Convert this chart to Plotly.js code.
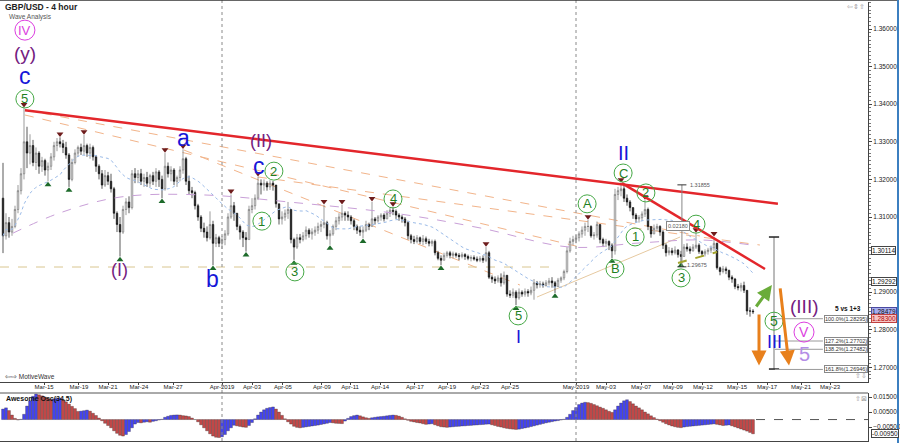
<!DOCTYPE html>
<html><head><meta charset="utf-8">
<script src="https://cdn.plot.ly/plotly-3.0.1.min.js"></script>
<style>html,body{margin:0;padding:0;background:#fff}#chart{width:900px;height:443px}</style>
</head><body><div id="chart"></div>
<script>
// ---------- DATA ----------
const firstOpen = 1.3150;
const closes = [
1.3050,1.3085,1.3060,1.3075,1.3120,1.3170,1.3215,1.3300,1.3270,1.3290,
1.3245,1.3270,1.3235,1.3250,1.3225,1.3235,1.3260,1.3290,1.3300,1.3295,
1.3285,1.3265,1.3200,1.3245,1.3270,1.3285,1.3275,1.3290,1.3270,1.3285,
1.3260,1.3235,1.3215,1.3185,1.3210,1.3195,1.3175,1.3110,1.3080,1.3060,
1.3120,1.3140,1.3125,1.3215,1.3205,1.3215,1.3195,1.3205,1.3190,1.3210,
1.3195,1.3220,1.3200,1.3175,1.3235,1.3215,1.3225,1.3195,1.3205,1.3225,
1.3255,1.3195,1.3170,1.3165,1.3130,1.3100,1.3070,1.3060,1.3045,1.3080,
1.3030,1.3045,1.3030,1.3040,1.3055,1.3100,1.3130,1.3110,1.3075,1.3060,
1.3045,1.3040,1.3120,1.3130,1.3150,1.3190,1.3185,1.3190,1.3180,1.3190,
1.3185,1.3135,1.3095,1.3100,1.3110,1.3120,1.3040,1.3020,1.3045,1.3040,
1.3050,1.3065,1.3055,1.3060,1.3065,1.3075,1.3080,1.3085,1.3050,1.3055,
1.3075,1.3090,1.3100,1.3110,1.3105,1.3100,1.3090,1.3075,1.3065,1.3060,
1.3065,1.3080,1.3075,1.3095,1.3090,1.3100,1.3105,1.3095,1.3110,1.3118,
1.3115,1.3105,1.3100,1.3095,1.3085,1.3050,1.3040,1.3035,1.3045,1.3035,
1.3042,1.3035,1.3030,1.3035,1.3005,1.2990,1.2985,1.2998,1.3005,1.2998,
1.3002,1.2998,1.2995,1.3000,1.2995,1.2990,1.2992,1.2988,1.2985,1.2990,
1.2985,1.3005,1.2940,1.2935,1.2930,1.2938,1.2925,1.2945,1.2895,1.2892,
1.2900,1.2885,1.2900,1.2895,1.2902,1.2898,1.2905,1.2925,1.2920,1.2922,
1.2918,1.2925,1.2930,1.2925,1.2915,1.2932,1.2938,1.2955,1.3010,1.3035,
1.3040,1.3045,1.3055,1.3065,1.3075,1.3075,1.3050,1.3052,1.3080,1.3040,
1.3030,1.3035,1.3025,1.3010,1.3160,1.3170,1.3175,1.3150,1.3140,1.3125,
1.3105,1.3095,1.3098,1.3108,1.3120,1.3075,1.3055,1.3070,1.3075,1.3060,
1.3025,1.3005,1.3010,1.3005,1.3012,1.3000,1.2995,1.3020,1.3015,1.3010,
1.3020,1.3025,1.3008,1.3002,1.3008,1.3012,1.3018,1.3030,1.2965,1.2955,
1.2962,1.2958,1.2940,1.2935,1.2915,1.2912,1.2918,1.2905,1.2850,1.2850,
1.2848];
const highs = [
1.3244,1.3110,1.3100,1.3095,1.3130,1.3185,1.3230,1.3390,1.3340,1.3320,
1.3305,1.3285,1.3275,1.3260,1.3255,1.3245,1.3270,1.3300,1.3310,1.3312,
1.3305,1.3300,1.3270,1.3255,1.3280,1.3290,1.3295,1.3318,1.3295,1.3295,
1.3290,1.3265,1.3240,1.3225,1.3225,1.3220,1.3215,1.3180,1.3115,1.3100,
1.3130,1.3150,1.3155,1.3225,1.3230,1.3225,1.3228,1.3215,1.3220,1.3215,
1.3220,1.3230,1.3225,1.3210,1.3270,1.3245,1.3235,1.3230,1.3210,1.3235,
1.3280,1.3260,1.3210,1.3180,1.3170,1.3135,1.3105,1.3085,1.3075,1.3115,
1.3090,1.3055,1.3050,1.3050,1.3065,1.3110,1.3160,1.3140,1.3110,1.3080,
1.3065,1.3060,1.3130,1.3150,1.3160,1.3207,1.3200,1.3200,1.3195,1.3198,
1.3196,1.3185,1.3135,1.3115,1.3120,1.3140,1.3120,1.3045,1.3055,1.3055,
1.3060,1.3075,1.3070,1.3070,1.3075,1.3085,1.3090,1.3132,1.3090,1.3065,
1.3080,1.3100,1.3110,1.3132,1.3115,1.3115,1.3105,1.3095,1.3080,1.3075,
1.3075,1.3090,1.3085,1.3140,1.3100,1.3105,1.3110,1.3110,1.3118,1.3125,
1.3126,1.3120,1.3110,1.3105,1.3100,1.3090,1.3055,1.3050,1.3052,1.3048,
1.3052,1.3048,1.3042,1.3040,1.3040,1.3010,1.2998,1.3005,1.3010,1.3010,
1.3008,1.3006,1.3004,1.3006,1.3004,1.3000,1.2998,1.2998,1.2995,1.2996,
1.2998,1.3020,1.3010,1.2945,1.2942,1.2945,1.2950,1.2955,1.2945,1.2905,
1.2910,1.2905,1.2910,1.2905,1.2910,1.2908,1.2915,1.2935,1.2930,1.2930,
1.2928,1.2932,1.2938,1.2940,1.2930,1.2938,1.2942,1.2960,1.3020,1.3045,
1.3050,1.3052,1.3062,1.3075,1.3085,1.3092,1.3078,1.3060,1.3088,1.3080,
1.3045,1.3042,1.3038,1.3030,1.3175,1.3180,1.3190,1.3185,1.3160,1.3145,
1.3125,1.3110,1.3105,1.3115,1.3145,1.3125,1.3075,1.3080,1.3082,1.3078,
1.3065,1.3030,1.3020,1.3018,1.3022,1.3015,1.3010,1.3028,1.3030,1.3022,
1.3028,1.3057,1.3030,1.3012,1.3014,1.3018,1.3024,1.3047,1.3032,1.2968,
1.2970,1.2968,1.2960,1.2945,1.2938,1.2922,1.2925,1.2928,1.2905,1.2860,
1.2855];
const lows = [
1.3004,1.3040,1.3045,1.3050,1.3070,1.3110,1.3160,1.3200,1.3230,1.3240,
1.3235,1.3225,1.3215,1.3220,1.3210,1.3195,1.3225,1.3250,1.3275,1.3285,
1.3270,1.3255,1.3180,1.3195,1.3240,1.3260,1.3265,1.3265,1.3260,1.3255,
1.3250,1.3220,1.3200,1.3175,1.3180,1.3185,1.3165,1.3095,1.3060,1.2995,
1.3055,1.3105,1.3110,1.3120,1.3190,1.3190,1.3185,1.3180,1.3180,1.3180,
1.3185,1.3180,1.3180,1.3150,1.3170,1.3205,1.3195,1.3185,1.3180,1.3195,
1.3215,1.3185,1.3160,1.3150,1.3120,1.3090,1.3060,1.3045,1.3035,1.3040,
1.2972,1.3020,1.3020,1.3015,1.3025,1.3050,1.3095,1.3090,1.3065,1.3040,
1.3020,1.3008,1.3040,1.3110,1.3120,1.3145,1.3160,1.3170,1.3170,1.3172,
1.3170,1.3125,1.3080,1.3080,1.3090,1.3095,1.3030,1.2986,1.3015,1.3030,
1.3035,1.3040,1.3045,1.3040,1.3050,1.3055,1.3060,1.3070,1.3040,1.3026,
1.3050,1.3065,1.3080,1.3090,1.3090,1.3090,1.3080,1.3065,1.3055,1.3050,
1.3044,1.3060,1.3065,1.3075,1.3080,1.3085,1.3090,1.3088,1.3095,1.3100,
1.3105,1.3095,1.3090,1.3085,1.3075,1.3040,1.3030,1.3028,1.3030,1.3028,
1.3025,1.3028,1.3022,1.3022,1.2998,1.2985,1.2972,1.2985,1.2992,1.2990,
1.2990,1.2992,1.2985,1.2990,1.2986,1.2985,1.2982,1.2984,1.2980,1.2980,
1.2978,1.2980,1.2935,1.2925,1.2922,1.2925,1.2915,1.2920,1.2888,1.2885,
1.2885,1.2866,1.2880,1.2888,1.2888,1.2888,1.2892,1.2880,1.2910,1.2912,
1.2912,1.2915,1.2918,1.2912,1.2898,1.2915,1.2925,1.2932,1.2950,1.3005,
1.3025,1.3030,1.3035,1.3045,1.3050,1.3060,1.3045,1.3040,1.3045,1.3030,
1.3020,1.3020,1.3012,1.2991,1.3000,1.3145,1.3155,1.3140,1.3130,1.3115,
1.3095,1.3085,1.3085,1.3090,1.3100,1.3065,1.3045,1.3055,1.3062,1.3050,
1.3015,1.2995,1.2998,1.2998,1.3000,1.2992,1.2980,1.2995,1.3008,1.3002,
1.3008,1.3015,1.3002,1.2995,1.2995,1.3000,1.3004,1.3010,1.2960,1.2945,
1.2950,1.2948,1.2932,1.2925,1.2908,1.2905,1.2902,1.2898,1.2840,1.2835,
1.2842];
// Awesome Oscillator (34,5), in thousandths
const aoMilli = [
7.0,7.8,6.0,3.0,0.8,-0.3,0.2,3.5,9.0,12.5,
15.5,17.0,16.5,15.8,15.0,14.2,13.5,13.8,14.2,14.3,
13.2,11.8,10.3,8.8,7.3,5.4,5.6,5.9,6.3,5.6,
4.2,2.7,1.0,-0.8,-2.5,-4.0,-5.5,-7.5,-9.2,-10.5,
-11.0,-10.0,-8.0,-5.5,-3.0,-2.0,-2.2,-1.8,-1.5,-1.8,
-1.2,-0.8,-0.3,0.2,1.5,2.2,2.8,3.0,3.1,3.0,
2.6,2.4,2.0,1.0,0.0,-1.5,-3.5,-5.5,-7.5,-9.5,
-11.0,-11.8,-12.0,-11.5,-10.0,-7.5,-5.5,-3.8,-4.2,-4.6,
-5.0,-5.2,-4.0,-2.0,0.5,3.0,5.0,6.5,7.5,8.0,
8.4,7.0,5.0,2.8,0.5,-1.5,-3.0,-4.5,-5.2,-5.5,
-5.2,-4.9,-4.6,-4.3,-4.0,-3.7,-3.3,-2.9,-2.5,-2.0,
-2.2,-2.5,-2.6,-2.7,-1.0,0.8,2.0,2.6,3.0,2.5,
1.8,1.2,0.8,1.2,1.5,1.8,2.0,2.2,2.5,2.8,
3.0,2.8,2.3,1.5,0.5,-0.5,-1.2,-1.6,-2.0,-2.3,
-2.8,-3.2,-3.0,-2.8,-3.5,-4.2,-4.8,-5.0,-5.2,-5.0,
-4.8,-4.6,-4.5,-4.3,-4.2,-4.0,-3.9,-3.7,-3.6,-3.4,
-3.3,-3.1,-3.0,-3.5,-4.0,-4.6,-5.0,-5.5,-5.9,-6.2,
-6.4,-6.6,-6.4,-6.0,-5.6,-5.2,-4.7,-4.2,-3.7,-3.2,
-2.7,-2.2,-1.8,-1.4,-1.0,-0.7,-0.3,0.2,1.5,3.5,
6.0,8.0,10.0,11.0,11.5,11.3,10.8,10.0,9.2,8.3,
7.5,6.5,5.5,4.8,6.5,9.0,11.0,12.5,13.2,12.0,
10.5,9.0,7.8,6.5,5.0,3.8,2.5,1.3,0.3,-0.8,
-1.8,-2.8,-3.6,-4.3,-4.8,-5.2,-5.4,-5.0,-4.7,-4.5,
-4.3,-4.1,-3.9,-3.7,-3.5,-3.3,-3.1,-2.9,-3.2,-3.6,
-4.0,-3.8,-3.6,-4.2,-4.9,-5.6,-6.3,-7.0,-7.7,-8.6,
-9.5];
const tickIdx = [13.7,25.3,35,45.3,56.7,73,83,93.3,106.3,115.7,125.7,137.3,148,159,169,191,201,212.7,223.3,233.3,244.7,254.7,266,275.7];
const tickLabels = ['Mar-15','Mar-19','Mar-21','Mar-24','Mar-27','Apr-2019','Apr-03','Apr-05','Apr-09','Apr-11','Apr-14','Apr-17','Apr-19','Apr-23','Apr-25','May-2019','May-03','May-07','May-09','May-12','May-15','May-17','May-21','May-23'];
const monthStarts = [73, 191];
const priceTicks = [1.27,1.28,1.29,1.31,1.32,1.33,1.34,1.35,1.36];
const aoTicks = [0.015, 0.005, -0.005];
const pivotHighIdx = [7,19,27,54,60,76,85,107,113,123,130,161,195,206,214,231,237];
const pivotLowIdx = [15,22,39,53,70,81,97,109,120,146,171,184,203,226];
const slowMaIdx = [3.3,19,39,65.7,99,132.3,159,189,212.3,232.3,249];
const slowMaVal = [1.3057,1.3111,1.3153,1.3159,1.3137,1.3108,1.3071,1.3020,1.3031,1.3039,1.3026];
const fibPct = ['100.0%','127.2%','138.2%','161.8%'];
const fibPrice = [1.28295,1.27702,1.27482,1.26946];
const markedLevels = [1.30114, 1.29292];
const lastPrice = 1.28479, refPrice = 1.28300, aoLast = -0.00950;
const measureHi = 1.31855, measureLo = 1.29675;

// ---------- DERIVED ----------
const idx = closes.map((_, i) => i);
const opens = [firstOpen].concat(closes.slice(0, -1));
const ao = aoMilli.map(v => v / 1000);
const aoColors = ao.map((v, i) => (i === 0 || v >= ao[i - 1]) ? '#4646f0' : '#c44a4a');
const fastLen = 20;
const fastMa = closes.map((_, i) => {
  const s = Math.max(0, i - fastLen + 1); let sum = 0;
  for (let k = s; k <= i; k++) sum += closes[k];
  return sum / (i - s + 1);
});

const FONT = 'Liberation Sans, Arial, sans-serif';
const GREEN = '#1f7f1f', RING = '#45a845', BLUE = '#1717d8', PURPLE = '#74207f', MAGENTA = '#dc3ee0', LAVENDER = '#b48ee6';
const PX = px => px / 868, PY = py => 1 - py / 443;

const traces = [
  {type:'scatter', mode:'lines', x:idx, y:fastMa, line:{color:'#9bbbe8', width:1, dash:'dot'}, hoverinfo:'skip'},
  {type:'scatter', mode:'lines', x:slowMaIdx, y:slowMaVal, line:{color:'#c9a0d8', width:1, dash:'dash', shape:'spline'}, hoverinfo:'skip'},
  {type:'candlestick', x:idx, open:opens, high:highs, low:lows, close:closes,
   increasing:{line:{color:'#707070', width:0.7}, fillcolor:'#ffffff'},
   decreasing:{line:{color:'#111111', width:0.7}, fillcolor:'#111111'},
   whiskerwidth:0, hoverinfo:'skip'},
  {type:'scatter', mode:'markers', x:pivotHighIdx, y:pivotHighIdx.map(i => highs[i] + 0.0009),
   marker:{symbol:'triangle-down', size:6, color:'#6e1c1c'}, hoverinfo:'skip'},
  {type:'scatter', mode:'markers', x:pivotLowIdx, y:pivotLowIdx.map(i => lows[i] - 0.0009),
   marker:{symbol:'triangle-up', size:6, color:'#1d6a2a'}, hoverinfo:'skip'},
  {type:'bar', x:idx, y:ao, xaxis:'x2', yaxis:'y2', marker:{color:aoColors, line:{color:'rgba(30,20,20,0.55)', width:0.5}}, hoverinfo:'skip'}
];

const shapes = [];
const line = (x0,y0,x1,y1,color,width,dash,layer,xref,yref) =>
  shapes.push({type:'line', xref:xref||'x', yref:yref||'y', x0, y0, x1, y1, layer:layer||'above', line:{color, width, dash:dash||'solid'}});

// faint guide lines
line(7.3,1.33846,232.3,1.30495,'#f2b48a',1,'dash','below');
line(7.3,1.33713,192.3,1.30202,'#f2b48a',1,'dash','below');
line(60.3,1.32782,172.3,1.29191,'#f2b48a',1,'dash','below');
line(85,1.32064,252.3,1.30255,'#f2b48a',1,'dash','below');
line(-1,1.2967,184,1.2967,'#d9c690',1,'dash','below');
line(178,1.28872,225.7,1.30468,'#e6c9a0',1,'solid','below');
// month separators
monthStarts.forEach(m => line(m, 2/443, m, 1, '#8a8a8a', 1, 'dot', 'above', 'x', 'paper'));
// red trend lines
line(7.3,1.3384,258.3,1.3135,'#e3262b',2.5);
line(206.3,1.3190,254,1.29617,'#e3262b',2.5);
// measure near wave 3
line(226.3,measureHi,226.3,measureLo,'#888',1);
line(224.8,measureHi,227.8,measureHi,'#333',1);
line(224.8,measureLo,227.8,measureLo,'#333',1);
line(225,1.29777,238,1.30070,'#a3a32c',2,'dash');
// projection measure
line(257,1.30468,257,1.26957,'#777',1);
line(255.3,1.30468,258.7,1.30468,'#222',1.5);
line(255.3,1.26957,258.7,1.26957,'#222',1.5);
fibPrice.forEach(p => line(257.3,p,273.3,p,'#9a9a9a',1));
// oscillator zero line after the data
line(251,0,288.33,0,'#555',1,'dash','above','x2','y2');
// frames
line(0,PY(393),1,PY(393),'#555',1,'solid','above','paper','paper');
line(0,1,1.035,1,'#333',1.5,'solid','above','paper','paper');
line(PX(898),0,PX(898),1,'#3c7fc0',2,'solid','above','paper','paper');

const annotations = [];
const waveLabels = [
  {t:'IV', x:7.3, y:1.3597, c:MAGENTA, s:13, ring:MAGENTA, r:10},
  {t:'(y)', x:7.3, y:1.3536, c:PURPLE, s:19},
  {t:'c', x:7.3, y:1.3474, c:BLUE, s:23},
  {t:'5', x:7.3, y:1.3414, c:GREEN, s:13, ring:RING, r:9},
  {t:'a', x:60, y:1.3309, c:BLUE, s:23},
  {t:'(II)', x:86, y:1.3302, c:PURPLE, s:18},
  {t:'c', x:85.3, y:1.3235, c:BLUE, s:23},
  {t:'2', x:90.3, y:1.3222, c:GREEN, s:13, ring:RING, r:9},
  {t:'1', x:86.3, y:1.3089, c:GREEN, s:13, ring:RING, r:9},
  {t:'(I)', x:38.7, y:1.2959, c:PURPLE, s:18},
  {t:'b', x:69.7, y:1.2934, c:BLUE, s:23},
  {t:'3', x:97.3, y:1.2954, c:GREEN, s:13, ring:RING, r:9},
  {t:'4', x:130, y:1.3148, c:GREEN, s:13, ring:RING, r:9},
  {t:'5', x:171.7, y:1.2837, c:GREEN, s:13, ring:RING, r:9},
  {t:'I', x:171.7, y:1.2781, c:BLUE, s:18},
  {t:'II', x:206.7, y:1.3270, c:BLUE, s:20},
  {t:'C', x:206.7, y:1.3217, c:GREEN, s:13, ring:RING, r:9},
  {t:'A', x:194.7, y:1.3135, c:GREEN, s:13, ring:RING, r:9},
  {t:'B', x:204, y:1.2962, c:GREEN, s:13, ring:RING, r:9},
  {t:'2', x:214.3, y:1.3164, c:GREEN, s:13, ring:RING, r:9},
  {t:'1', x:210.7, y:1.3047, c:GREEN, s:13, ring:RING, r:9},
  {t:'4', x:231, y:1.3081, c:GREEN, s:13, ring:RING, r:9},
  {t:'3', x:226, y:1.2938, c:GREEN, s:13, ring:RING, r:9},
  {t:'5', x:257, y:1.2823, c:GREEN, s:14, ring:RING, r:9},
  {t:'(III)', x:267, y:1.2861, c:PURPLE, s:19},
  {t:'V', x:267, y:1.2794, c:MAGENTA, s:14, ring:MAGENTA, r:10},
  {t:'III', x:257, y:1.2768, c:BLUE, s:18},
  {t:'5', x:267, y:1.2736, c:LAVENDER, s:20}
];
waveLabels.forEach(w => {
  annotations.push({xref:'x', yref:'y', x:w.x, y:w.y, text:w.t, showarrow:false, xanchor:'center', yanchor:'middle', font:{family:FONT, size:w.s, color:w.c}});
  if (w.ring) shapes.push({type:'circle', xref:'x', yref:'y', xsizemode:'pixel', ysizemode:'pixel', xanchor:w.x, yanchor:w.y, x0:-w.r, x1:w.r, y0:-w.r, y1:w.r, layer:'above', line:{color:w.ring, width:1}});
});
// arrows
const arrow = (x, y, ax, ay, color) => annotations.push({xref:'x', yref:'y', axref:'x', ayref:'y', x, y, ax, ay, text:'', showarrow:true, arrowhead:2, arrowsize:1, arrowwidth:3, arrowcolor:color});
arrow(256.3,1.2919,250.7,1.2858,'#6aac3a');
arrow(252,1.2705,252,1.2845,'#e8801c');
arrow(262,1.2705,259,1.2914,'#e8801c');
// small texts
const small = (x, y, text, opts) => annotations.push(Object.assign({xref:'x', yref:'y', x, y, text, showarrow:false, font:{family:FONT, size:5.5, color:'#555'}}, opts||{}));
small(228.3, measureHi, measureHi.toFixed(5), {xanchor:'left'});
small(225, 1.30761, (measureHi - measureLo).toFixed(5), {bordercolor:'#888', borderwidth:1, borderpad:1, bgcolor:'#fff'});
small(227.3, measureLo + 0.0005, measureLo.toFixed(5), {xanchor:'left'});
fibPct.forEach((p, k) => small(273.5, fibPrice[k], p + '(' + fibPrice[k].toFixed(5) + ')', {xanchor:'left', bordercolor:'#888', borderwidth:1, borderpad:0, bgcolor:'#fff', font:{family:FONT, size:5.5, color:'#333'}}));
small(281.5, 1.28555, '5 vs 1+3', {font:{family:FONT, size:6.5, color:'#111', weight:'bold'}});
// right-axis price boxes
const box = (yref, y, text, bg, border, color) => annotations.push({xref:'paper', yref, x:1.003, y, xanchor:'left', yanchor:'middle', text, showarrow:false, bgcolor:bg, bordercolor:border, borderwidth:1, borderpad:0, font:{family:FONT, size:6.5, color}});
markedLevels.forEach(v => box('y', v, v.toFixed(5), '#ffffff', '#444', '#111'));
box('y', lastPrice, lastPrice.toFixed(5), '#a7acef', '#4a4aa0', '#111');
box('y', refPrice, refPrice.toFixed(5), '#f6c4c4', '#c04040', '#b00000');
box('y2', aoLast, aoLast.toFixed(5), '#ffffff', '#444', '#111');
// panel texts
const ptext = (px, py, text, size, color, weight) => annotations.push({xref:'paper', yref:'paper', x:PX(px), y:PY(py), xanchor:'left', yanchor:'middle', text, showarrow:false, font:{family:FONT, size, color, weight:weight||'normal'}});
ptext(7, 17, 'Wave Analysis', 6.5, '#555');
ptext(3, 376, '⇦⇨ MotiveWave', 6.5, '#333');
ptext(4, 399, 'Awesome Osc(34,5)', 7, '#111', 'bold');
ptext(845, 6, '⇦⇕⇧', 7, '#9a9a9a');
ptext(853, 375, '⇧⇩', 6.5, '#9a9a9a');
ptext(853, 398, '⇧⊠', 6.5, '#9a9a9a');

const layout = {
  width:900, height:443,
  margin:{l:0, r:32, t:0, b:0, pad:0},
  paper_bgcolor:'#ffffff', plot_bgcolor:'#ffffff',
  showlegend:false, hovermode:false, bargap:0.05,
  font:{family:FONT, size:7, color:'#222'},
  title:{text:'GBP/USD - 4 hour', xref:'container', yref:'container', x:5/900, xanchor:'left', y:1 - 7/443, yanchor:'middle', font:{family:FONT, size:8.5, color:'#222', weight:'bold'}},
  xaxis:{domain:[0,1], range:[-1,288.33], anchor:'y', rangeslider:{visible:false}, tickmode:'array', tickvals:tickIdx, ticktext:tickLabels,
         ticks:'outside', ticklen:2, tickcolor:'#444', showline:true, linecolor:'#444', linewidth:1, showgrid:false, zeroline:false,
         ticklabelstandoff:-3,
         tickfont:{family:FONT, size:6, color:'#222'}, fixedrange:true},
  yaxis:{domain:[1 - 382/443, 1 - 2/443], range:[1.26612,1.36718], side:'right', anchor:'x', tickmode:'array', tickvals:priceTicks, tickformat:'.5f',
         ticks:'outside', ticklen:3, tickcolor:'#444', showline:true, linecolor:'#444', showgrid:false, zeroline:false,
         tickfont:{family:FONT, size:6.5, color:'#222'},
         minor:{tickmode:'linear', tick0:1.27, dtick:0.001, ticks:'outside', ticklen:2, tickcolor:'#777', showgrid:false}, fixedrange:true},
  xaxis2:{domain:[0,1], anchor:'y2', matches:'x', showticklabels:false, ticks:'', showline:true, linecolor:'#444', showgrid:false, zeroline:false},
  yaxis2:{domain:[2/443, 1 - 393/443], range:[-0.0143,0.0177], side:'right', anchor:'x2', tickmode:'array', tickvals:aoTicks, tickformat:'.5f',
          ticks:'outside', ticklen:3, tickcolor:'#444', showline:true, linecolor:'#444', showgrid:false, zeroline:false,
          tickfont:{family:FONT, size:6.5, color:'#222'}, fixedrange:true},
  shapes, annotations
};
Plotly.newPlot('chart', traces, layout, {displayModeBar:false, staticPlot:true});
</script></body></html>
